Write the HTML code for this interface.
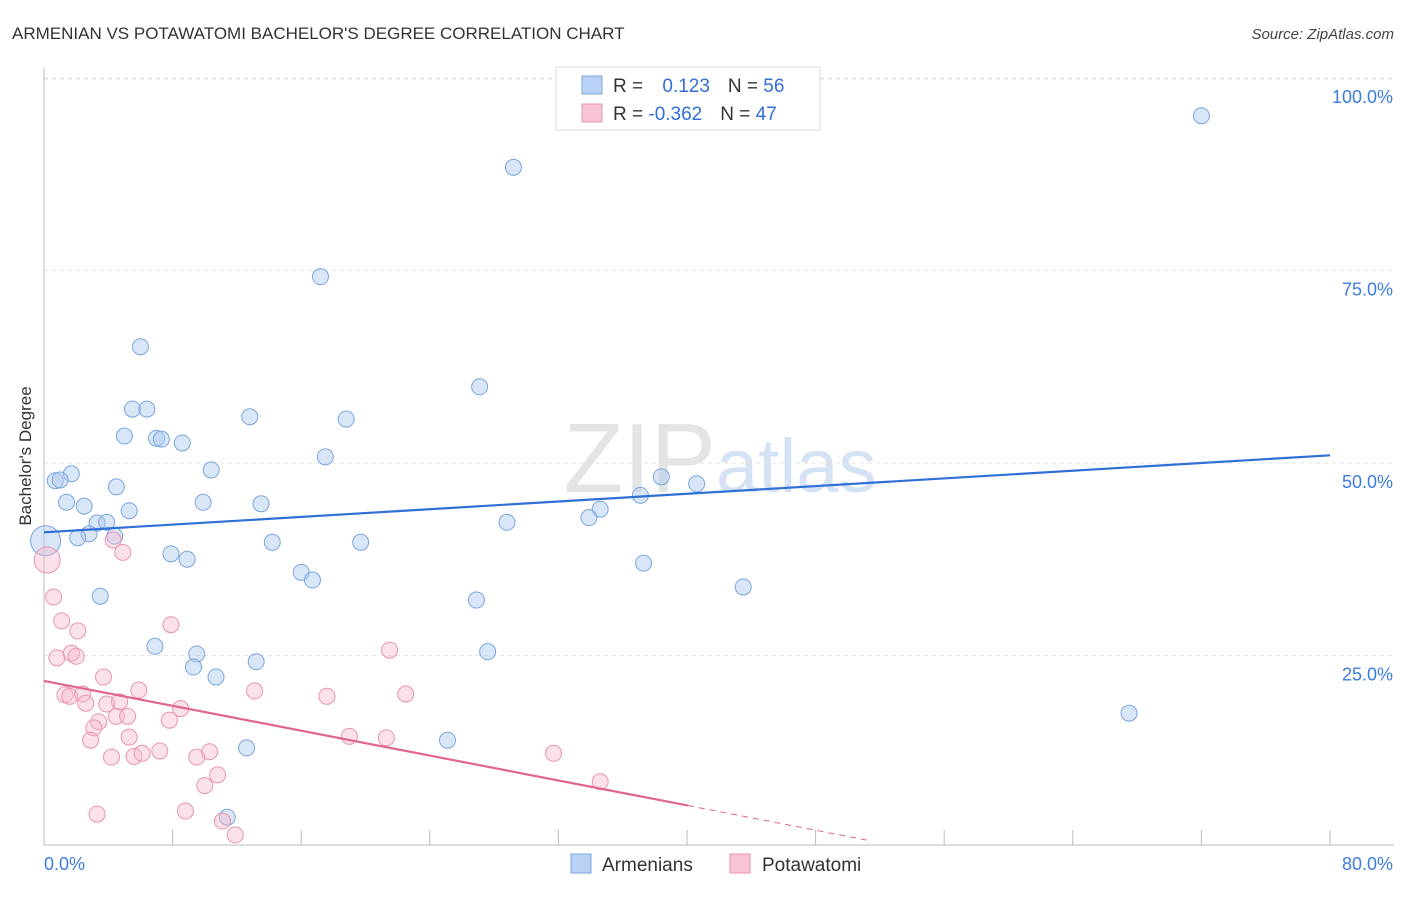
<!DOCTYPE html>
<html><head><meta charset="utf-8"><style>
body{margin:0;background:#fff;font-family:"Liberation Sans",sans-serif}
svg text{font-family:"Liberation Sans",sans-serif}
</style></head><body>
<svg id="chart" width="1406" height="892">
<text x="12" y="39" font-size="17" fill="#333">ARMENIAN VS POTAWATOMI BACHELOR'S DEGREE CORRELATION CHART</text>
<text x="1394" y="39" font-size="15" fill="#444" font-style="italic" text-anchor="end">Source: ZipAtlas.com</text>
<text x="31" y="456" font-size="17" fill="#333" transform="rotate(-90 31 456)" text-anchor="middle">Bachelor's Degree</text>
<text x="720" y="492" font-size="98" fill="#e4e4e4" text-anchor="middle" font-family="Liberation Serif">ZIP<tspan fill="#d4e2f4" font-family="Liberation Sans" font-size="76">atlas</tspan></text>
<g id="grid"></g><g id="marks"></g>
<g>
<rect x="556" y="67" width="264" height="63" fill="#fff" stroke="#ddd"/>
<rect x="582" y="76" width="20" height="18" fill="#b9d2f3" stroke="#7aa6de"/>
<rect x="582" y="104" width="20" height="18" fill="#f8c4d4" stroke="#ea93b0"/>
<text x="613" y="92" font-size="19" fill="#333">R = <tspan fill="#2f6fd6" dx="14">0.123</tspan><tspan dx="18" fill="#333">N = </tspan><tspan fill="#2f6fd6">56</tspan></text>
<text x="613" y="120" font-size="19" fill="#333">R = <tspan fill="#2f6fd6">-0.362</tspan><tspan dx="18" fill="#333">N = </tspan><tspan fill="#2f6fd6">47</tspan></text>
</g>
<g>
<rect x="571" y="854" width="20" height="19" fill="#b9d2f3" stroke="#7aa6de"/>
<text x="602" y="871" font-size="19" fill="#333">Armenians</text>
<rect x="730" y="854" width="20" height="19" fill="#f8c4d4" stroke="#ea93b0"/>
<text x="762" y="871" font-size="19" fill="#333">Potawatomi</text>
</g>
</svg>
<script>
const blueX=[72.0,29.2,17.2,6.0,27.1,5.5,6.4,12.8,18.8,5.0,7.0,7.3,8.6,17.5,10.4,1.7,0.7,1.0,4.5,1.4,2.5,9.9,13.5,5.3,3.3,3.9,2.8,2.1,4.4,14.2,19.7,28.8,7.9,8.9,16.0,16.7,3.5,26.9,6.9,9.5,9.3,13.2,10.7,27.6,37.1,34.6,33.9,38.4,40.6,37.3,43.5,67.5,12.6,25.1,11.4,0.1];
const blueY=[95.1,88.4,74.2,65.1,59.9,57.0,57.0,56.0,55.7,53.5,53.2,53.1,52.6,50.8,49.1,48.6,47.7,47.8,46.9,44.9,44.4,44.9,44.7,43.8,42.2,42.3,40.8,40.3,40.5,39.7,39.7,42.3,38.2,37.5,35.8,34.8,32.7,32.2,26.2,25.2,23.5,24.2,22.2,25.5,45.8,44.0,42.9,48.2,47.3,37.0,33.9,17.5,13.0,14.0,4.0,39.9];
const blueBig=[55];
const pinkX=[0.2,0.6,1.1,2.1,0.8,1.7,2.0,3.7,1.3,1.6,2.4,2.6,3.9,4.7,5.9,4.5,5.2,3.4,3.1,2.9,5.3,4.2,5.6,6.1,7.2,7.9,8.5,7.8,9.5,10.3,10.8,10.0,8.8,3.3,11.1,11.9,13.1,17.6,19.0,21.3,21.5,22.5,31.7,34.6,4.3,4.9];
const pinkY=[37.4,32.6,29.5,28.2,24.7,25.3,24.9,22.2,19.9,19.7,20.0,18.8,18.7,19.0,20.5,17.1,17.1,16.4,15.6,14.0,14.4,11.8,11.9,12.3,12.6,29.0,18.1,16.6,11.8,12.5,9.5,8.1,4.8,4.4,3.5,1.7,20.4,19.7,14.5,14.3,25.7,20.0,12.3,8.6,40.0,38.4];
const pinkBig=[0];
const blueTrend=[41.0,51.0];
const pinkTrend=[21.7,-0.404];
const yTicks=[25,50,75,100];
const xTickLabels=["0.0%","80.0%"];
const NS="http://www.w3.org/2000/svg";
const sx=v=>44+v*16.075, sy=v=>848-v*7.7;
const grid=document.getElementById('grid'), marks=document.getElementById('marks');
function mk(tag,attrs,parent){const e=document.createElementNS(NS,tag);for(const k in attrs)e.setAttribute(k,attrs[k]);parent.appendChild(e);return e;}
yTicks.forEach(t=>{
 const l=mk('line',{x1:44,x2:1394,y1:sy(t),y2:sy(t),stroke:'#e3e3e3','stroke-dasharray':'4,4'},grid);
 
 
 const tx=mk('text',{x:1393,y:sy(t)+25,'font-size':18,fill:'#3b7ddd','text-anchor':'end'},grid);
 tx.textContent=t.toFixed(1)+'%';
 
 
});
mk('line',{x1:44,x2:1394,y1:79,y2:79,stroke:'#e3e3e3','stroke-dasharray':'4,4'},grid);
mk('line',{x1:44,x2:44,y1:68,y2:845,stroke:'#bbb'},grid);
mk('line',{x1:44,x2:1394,y1:845,y2:845,stroke:'#bbb'},grid);
for(let i=0;i<=10;i++){const t=mk('line',{x1:sx(i*8),x2:sx(i*8),y1:830,y2:845,stroke:'#bbb'},grid);
 
 }
const xl0=mk('text',{x:44,y:870,'font-size':18,fill:'#3b7ddd'},grid);xl0.textContent=xTickLabels[0];


const xl1=mk('text',{x:1393,y:870,'font-size':18,fill:'#3b7ddd','text-anchor':'end'},grid);xl1.textContent=xTickLabels[1];


blueX.forEach((v,i)=>{const big=blueBig.includes(i);
 const c=mk('circle',{cx:sx(v),cy:sy(blueY[i]),r:big?15:8,fill:'rgba(170,200,240,0.45)',stroke:'#7aa6de','stroke-width':1},marks);
 
 });
pinkX.forEach((v,i)=>{const big=pinkBig.includes(i);
 const c=mk('circle',{cx:sx(v),cy:sy(pinkY[i]),r:big?13:8,fill:'rgba(246,185,205,0.42)',stroke:'#ea93b0','stroke-width':1},marks);
 
 });
const bl=mk('line',{x1:sx(0),y1:sy(blueTrend[0]),x2:sx(80),y2:sy(blueTrend[1]),stroke:'#2f6fd6','stroke-width':2.2},marks);


const pf=x=>pinkTrend[0]+pinkTrend[1]*x;
const pl=mk('line',{x1:sx(0),y1:sy(pf(0)),x2:sx(40.06),y2:sy(pf(40.06)),stroke:'#e06592','stroke-width':2.2},marks);


const pd=mk('line',{x1:sx(40.06),y1:sy(pf(40.06)),x2:sx(51.4),y2:sy(pf(51.4)),stroke:'#e06592','stroke-width':1,'stroke-dasharray':'6,5'},marks);


</script>
</body></html>
